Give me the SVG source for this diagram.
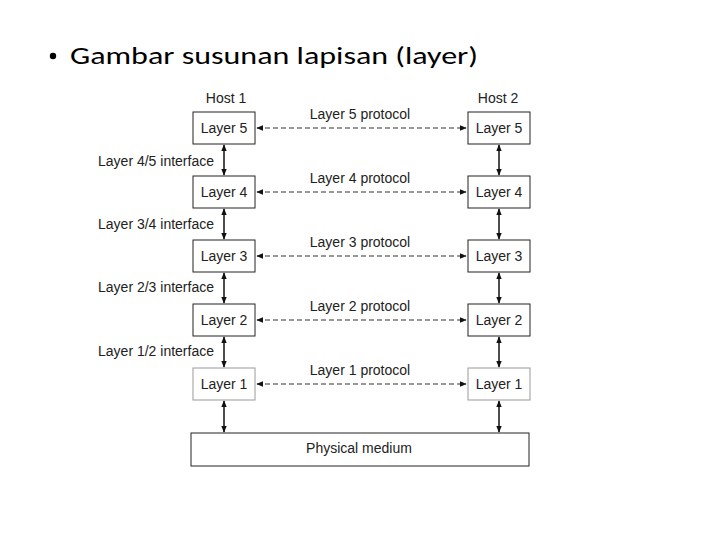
<svg xmlns="http://www.w3.org/2000/svg" width="720" height="540" viewBox="0 0 720 540">
<defs>
<style>
.t{font-family:"Liberation Sans",Arial,sans-serif;font-size:14px;fill:#222}
.box{fill:#fff;stroke:#222;stroke-width:1}
.v{stroke:#111;stroke-width:1.5;fill:none}
.d{stroke:#333;stroke-width:1.2;stroke-dasharray:5 3;fill:none}
</style>
<marker id="ah" viewBox="0 0 10 10" refX="9" refY="5" markerWidth="7" markerHeight="7" markerUnits="userSpaceOnUse" orient="auto-start-reverse">
<path d="M0,1 L10,5 L0,9 Z" fill="#111"/>
</marker>
</defs>
<rect width="720" height="540" fill="#fff"/>
<g id="title">
<circle cx="53" cy="56" r="3.2" fill="#000"/>
<text x="70" y="64" font-family="Carlito,'Open Sans','Liberation Sans',sans-serif" font-size="25" fill="#000" textLength="408" lengthAdjust="spacingAndGlyphs">Gambar susunan lapisan (layer)</text>
</g>
<g id="hosts">
<text class="t" x="226" y="103" text-anchor="middle">Host 1</text>
<text class="t" x="498" y="103" text-anchor="middle">Host 2</text>
</g>
<g id="connectors">
<line class="v" x1="224" y1="145" x2="224" y2="175" marker-start="url(#ah)" marker-end="url(#ah)"/>
<line class="v" x1="224" y1="209" x2="224" y2="239" marker-start="url(#ah)" marker-end="url(#ah)"/>
<line class="v" x1="224" y1="273" x2="224" y2="303" marker-start="url(#ah)" marker-end="url(#ah)"/>
<line class="v" x1="224" y1="337" x2="224" y2="367" marker-start="url(#ah)" marker-end="url(#ah)"/>
<line class="v" x1="224" y1="401" x2="224" y2="432" marker-start="url(#ah)" marker-end="url(#ah)"/>
<line class="v" x1="499" y1="145" x2="499" y2="175" marker-start="url(#ah)" marker-end="url(#ah)"/>
<line class="v" x1="499" y1="209" x2="499" y2="239" marker-start="url(#ah)" marker-end="url(#ah)"/>
<line class="v" x1="499" y1="273" x2="499" y2="303" marker-start="url(#ah)" marker-end="url(#ah)"/>
<line class="v" x1="499" y1="337" x2="499" y2="367" marker-start="url(#ah)" marker-end="url(#ah)"/>
<line class="v" x1="499" y1="401" x2="499" y2="432" marker-start="url(#ah)" marker-end="url(#ah)"/>
<line class="d" x1="257" y1="128" x2="466" y2="128" marker-start="url(#ah)" marker-end="url(#ah)"/>
<line class="d" x1="257" y1="192" x2="466" y2="192" marker-start="url(#ah)" marker-end="url(#ah)"/>
<line class="d" x1="257" y1="256" x2="466" y2="256" marker-start="url(#ah)" marker-end="url(#ah)"/>
<line class="d" x1="257" y1="320" x2="466" y2="320" marker-start="url(#ah)" marker-end="url(#ah)"/>
<line class="d" x1="257" y1="384" x2="466" y2="384" marker-start="url(#ah)" marker-end="url(#ah)"/>
</g>
<g id="protocol-labels">
<text class="t" x="360" y="119" text-anchor="middle">Layer 5 protocol</text>
<text class="t" x="360" y="183" text-anchor="middle">Layer 4 protocol</text>
<text class="t" x="360" y="247" text-anchor="middle">Layer 3 protocol</text>
<text class="t" x="360" y="311" text-anchor="middle">Layer 2 protocol</text>
<text class="t" x="360" y="375" text-anchor="middle">Layer 1 protocol</text>
</g>
<g id="interface-labels">
<text class="t" x="214" y="166" text-anchor="end">Layer 4/5 interface</text>
<text class="t" x="214" y="229" text-anchor="end">Layer 3/4 interface</text>
<text class="t" x="214" y="292" text-anchor="end">Layer 2/3 interface</text>
<text class="t" x="214" y="356" text-anchor="end">Layer 1/2 interface</text>
</g>
<g id="h1-layer5"><rect class="box" x="193" y="112" width="62" height="32"/><text class="t" x="224" y="133" text-anchor="middle">Layer 5</text></g>
<g id="h1-layer4"><rect class="box" x="193" y="176" width="62" height="32"/><text class="t" x="224" y="197" text-anchor="middle">Layer 4</text></g>
<g id="h1-layer3"><rect class="box" x="193" y="240" width="62" height="32"/><text class="t" x="224" y="261" text-anchor="middle">Layer 3</text></g>
<g id="h1-layer2"><rect class="box" x="193" y="304" width="62" height="32"/><text class="t" x="224" y="325" text-anchor="middle">Layer 2</text></g>
<g id="h1-layer1"><rect class="box" x="193" y="368" width="62" height="32" style="stroke:#999"/><text class="t" x="224" y="389" text-anchor="middle">Layer 1</text></g>
<g id="h2-layer5"><rect class="box" x="468" y="112" width="62" height="32"/><text class="t" x="499" y="133" text-anchor="middle">Layer 5</text></g>
<g id="h2-layer4"><rect class="box" x="468" y="176" width="62" height="32"/><text class="t" x="499" y="197" text-anchor="middle">Layer 4</text></g>
<g id="h2-layer3"><rect class="box" x="468" y="240" width="62" height="32"/><text class="t" x="499" y="261" text-anchor="middle">Layer 3</text></g>
<g id="h2-layer2"><rect class="box" x="468" y="304" width="62" height="32"/><text class="t" x="499" y="325" text-anchor="middle">Layer 2</text></g>
<g id="h2-layer1"><rect class="box" x="468" y="368" width="62" height="32" style="stroke:#999"/><text class="t" x="499" y="389" text-anchor="middle">Layer 1</text></g>
<g id="physical-medium"><rect class="box" x="191" y="433" width="338" height="33"/><text class="t" x="359" y="453" text-anchor="middle">Physical medium</text></g>
</svg>
